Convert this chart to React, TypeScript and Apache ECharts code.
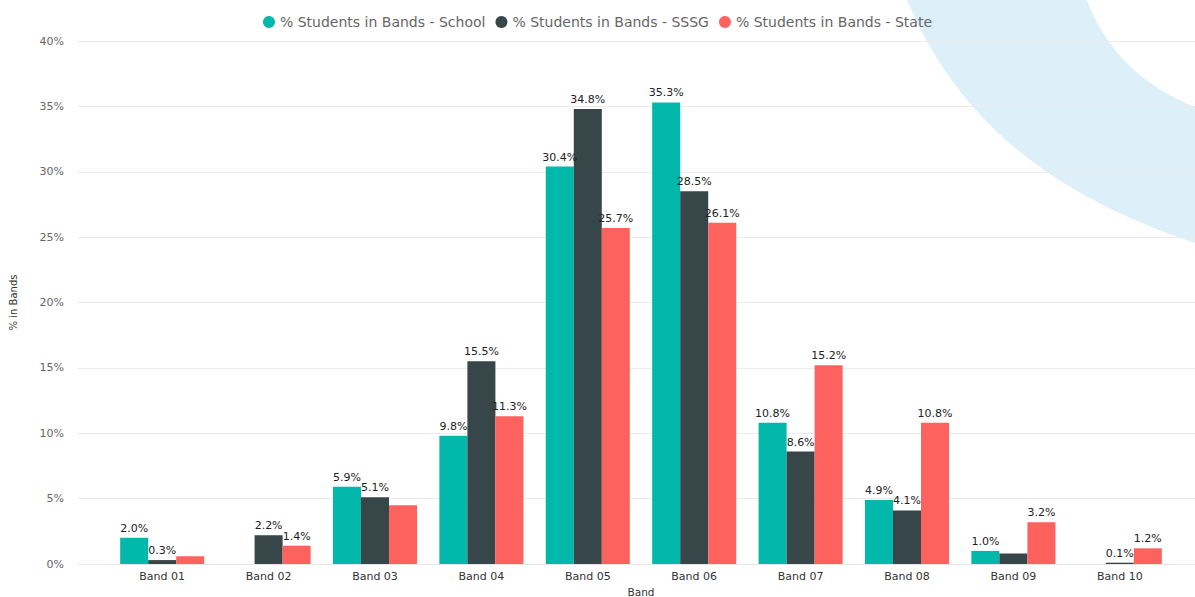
import React, { useEffect, useRef } from "react";
import * as echarts from "echarts";

const categories = ["Band 01", "Band 02", "Band 03", "Band 04", "Band 05", "Band 06", "Band 07", "Band 08", "Band 09", "Band 10"];
const seriesNames = ["% Students in Bands - School", "% Students in Bands - SSSG", "% Students in Bands - State"];
const schoolValues = [2.0, 0, 5.9, 9.8, 30.4, 35.3, 10.8, 4.9, 1.0, 0];
const sssgValues = [0.3, 2.2, 5.1, 15.5, 34.8, 28.5, 8.6, 4.1, 0.8, 0.1];
const stateValues = [0.6, 1.4, 4.5, 11.3, 25.7, 26.1, 15.2, 10.8, 3.2, 1.2];
const schoolLabelShown = [true, false, true, true, true, true, true, true, true, false];
const sssgLabelShown = [true, true, true, true, true, true, true, true, false, true];
const stateLabelShown = [false, true, false, true, true, true, true, true, true, true];
const yTicks = [0, 5, 10, 15, 20, 25, 30, 35, 40];
const colors = ["#01B8AA", "#374649", "#FD625E"];

const swooshPath =
  "M907 0 C955 115 1045 193 1195 243 L1195 107 Q1115 75 1087 0 Z";

let registered = false;

export default function App() {
  const ref = useRef<HTMLDivElement>(null);
  useEffect(() => {
    document.body.style.margin = "0";
    if (!registered) {
      echarts.graphic.registerShape("swoosh", echarts.graphic.extendPath(swooshPath, {}) as any);
      registered = true;
    }
    const chart = echarts.init(ref.current!, null, { renderer: "svg" });
    const font = "'DejaVu Sans', sans-serif";
    const mk = (vals: number[], shown: boolean[]) =>
      vals.map((v, i) => ({ value: v, label: { show: shown[i] } }));
    const values = [schoolValues, sssgValues, stateValues];
    const shown = [schoolLabelShown, sssgLabelShown, stateLabelShown];
    const yMin = yTicks[0];
    const yMax = yTicks[yTicks.length - 1];
    const yInt = yTicks[1] - yTicks[0];
    chart.setOption({
      animation: false,
      backgroundColor: "#ffffff",
      color: colors,
      graphic: [
        {
          type: "swoosh",
          x: 0,
          y: 0,
          z: -10,
          silent: true,
          style: { fill: "#DDEFF8" },
        },
      ],
      legend: {
        top: 10,
        left: "center",
        icon: "circle",
        itemWidth: 12,
        itemHeight: 12,
        itemGap: 10,
        textStyle: { color: "#666666", fontSize: 14, fontFamily: font },
        data: seriesNames,
      },
      grid: [
        { left: 78, right: 0, top: 41, bottom: 33, outerBoundsMode: "none", containLabel: false },
        { left: 109, right: 22, top: 41, bottom: 33, outerBoundsMode: "none", containLabel: false },
      ],
      xAxis: [
        { gridIndex: 0, type: "category", data: categories, show: false },
        {
          gridIndex: 1,
          type: "category",
          data: categories,
          name: "Band",
          nameLocation: "middle",
          nameGap: 19,
          nameTextStyle: { color: "#333333", fontSize: 10.5, fontFamily: font },
          axisLine: { show: true, lineStyle: { color: "#E6E6E6" } },
          axisTick: { show: false },
          axisLabel: { color: "#333333", fontSize: 11, fontFamily: font, margin: 7 },
        },
      ],
      yAxis: [
        {
          gridIndex: 0,
          type: "value",
          min: yMin,
          max: yMax,
          interval: yInt,
          name: "% in Bands",
          nameLocation: "middle",
          nameGap: 60,
          nameTextStyle: { color: "#333333", fontSize: 10, fontFamily: font },
          axisLine: { show: false },
          axisTick: { show: false },
          axisLabel: { formatter: "{value}%", color: "#666666", fontSize: 11, fontFamily: font, margin: 14 },
          splitLine: { show: true, lineStyle: { color: "#EBEBEB", width: 1 } },
        },
        {
          gridIndex: 1,
          type: "value",
          min: yMin,
          max: yMax,
          interval: yInt,
          show: false,
          splitLine: { show: false },
        },
      ],
      series: seriesNames.map((name, s) => ({
        name,
        type: "bar",
        xAxisIndex: 1,
        yAxisIndex: 1,
        barGap: "0%",
        barCategoryGap: "21%",
        data: mk(values[s], shown[s]),
        label: {
          position: "top",
          distance: 4,
          color: "#222222",
          fontSize: 11,
          fontFamily: font,
          formatter: (p: any) => Number(p.value).toFixed(1) + "%",
        },
      })),
    });
    return () => chart.dispose();
  }, []);
  return <div ref={ref} style={{ width: 1195, height: 597 }} />;
}
